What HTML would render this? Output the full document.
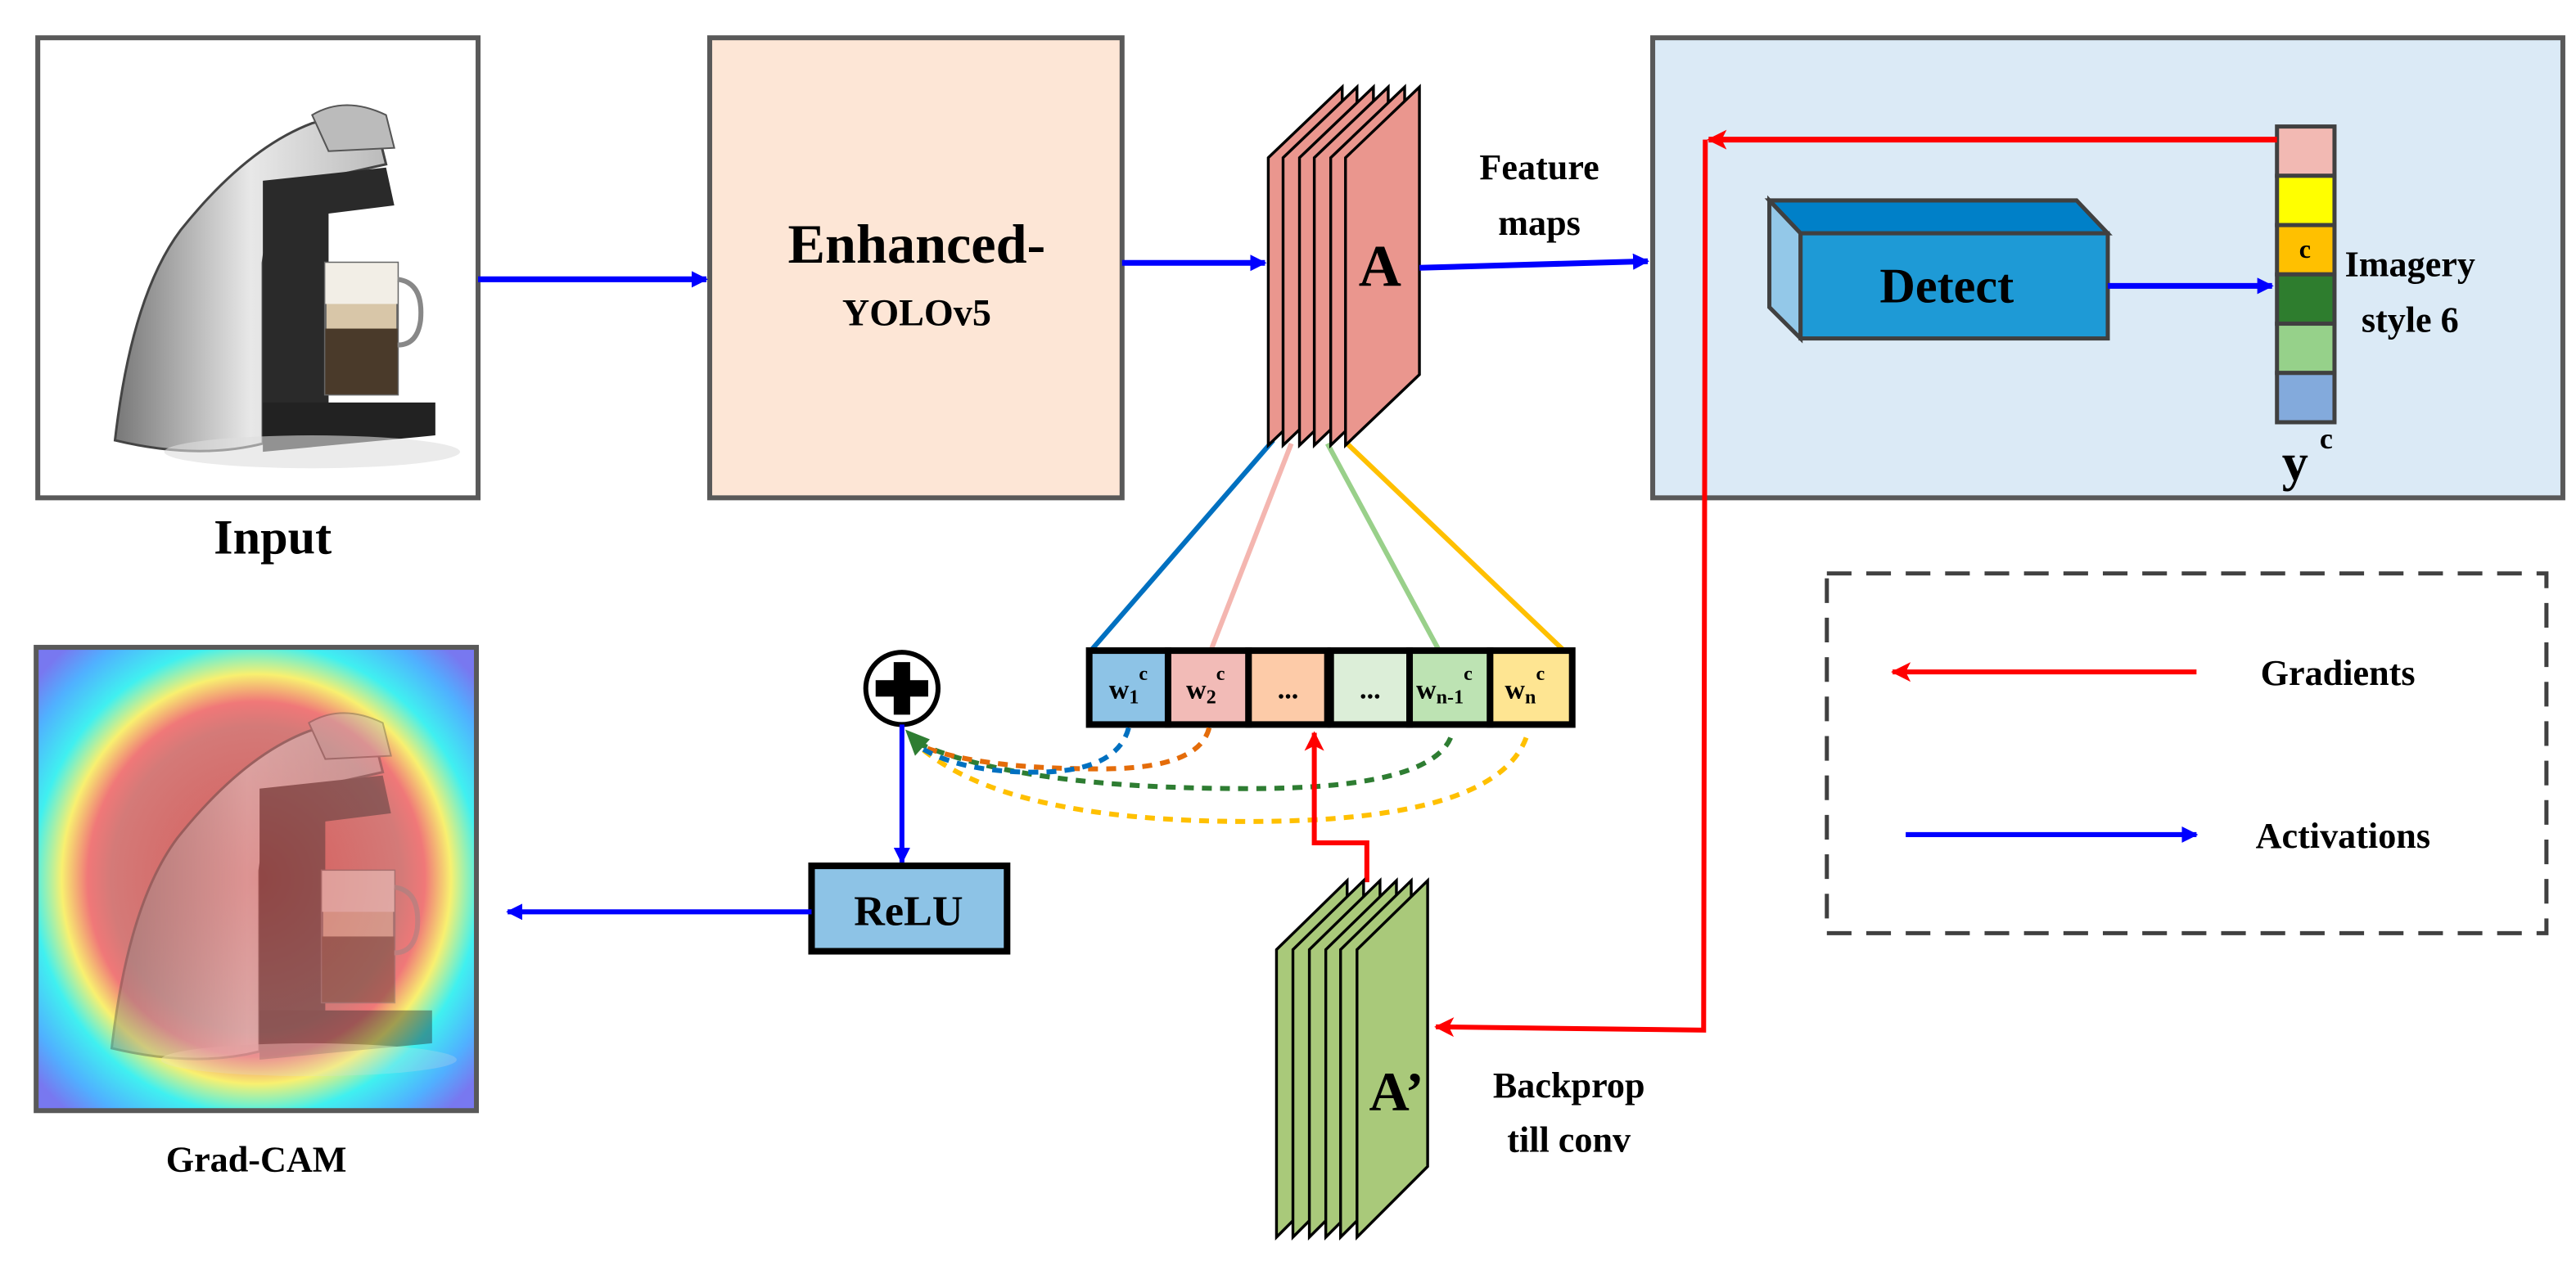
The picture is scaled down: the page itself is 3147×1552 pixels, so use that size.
<!DOCTYPE html>
<html><head><meta charset="utf-8"><style>
html,body{margin:0;padding:0;background:#fff;}
svg{display:block;}
text{font-family:"Liberation Serif",serif;font-weight:bold;fill:#000;}
</style></head><body>
<svg width="3147" height="1552" viewBox="0 0 1568 773" preserveAspectRatio="none" xmlns="http://www.w3.org/2000/svg">
<defs>
<marker id="ab" markerWidth="10" markerHeight="10" refX="9" refY="5" orient="auto" markerUnits="userSpaceOnUse"><path d="M0,0 L10,5 L0,10 Z" fill="#0000ff"/></marker>
<marker id="ar" markerWidth="12" markerHeight="12" refX="11" refY="6" orient="auto" markerUnits="userSpaceOnUse"><path d="M0,0 L12,6 L0,12 L3,6 Z" fill="#ff0000"/></marker>
<radialGradient id="heat" cx="50%" cy="50%" r="66%">
<stop offset="0" stop-color="#d65a58"/>
<stop offset="0.5" stop-color="#d47a78"/>
<stop offset="0.58" stop-color="#f07878"/>
<stop offset="0.67" stop-color="#f8f070"/>
<stop offset="0.77" stop-color="#40f0f0"/>
<stop offset="0.9" stop-color="#50b0ff"/>
<stop offset="1" stop-color="#7878f0"/>
</radialGradient>
<linearGradient id="body" x1="0" x2="1">
<stop offset="0" stop-color="#777"/><stop offset="0.5" stop-color="#e8e8e8"/><stop offset="1" stop-color="#bbb"/>
</linearGradient>
<g id="machine">
<path d="M30,238 Q40,150 70,110 Q110,60 150,45 Q175,38 190,50 L195,70 L150,80 Q125,90 120,130 L120,240 Q80,250 30,238 Z" fill="url(#body)" stroke="#444" stroke-width="1.5"/>
<path d="M120,80 L195,72 L200,95 L160,100 L160,235 L120,240 Z" fill="#2a2a2a"/>
<path d="M150,40 Q170,28 195,40 L200,60 L160,62 Z" fill="#bbb" stroke="#555"/>
<rect x="158" y="130" width="44" height="80" fill="#d8c6a8" stroke="#666" stroke-width="1.5"/>
<rect x="158" y="130" width="44" height="25" fill="#f2eee6"/>
<rect x="158" y="170" width="44" height="40" fill="#4a3a2a"/>
<path d="M202,140 Q218,142 216,165 Q214,180 202,180" fill="none" stroke="#888" stroke-width="3"/>
<path d="M120,215 L225,215 L225,235 L120,245 Z" fill="#222"/>
<ellipse cx="150" cy="245" rx="90" ry="10" fill="#ddd" opacity="0.6"/>
</g>
</defs>

<rect x="23" y="23" width="268" height="280" fill="#fff" stroke="#595959" stroke-width="3"/>
<g transform="translate(40,30)"><use href="#machine"/></g>
<text x="166" y="337" font-size="30" text-anchor="middle">Input</text>

<rect x="22" y="394" width="268" height="282" fill="url(#heat)" stroke="#595959" stroke-width="3"/>
<g transform="translate(38,400)" opacity="0.4"><use href="#machine"/></g>
<text x="156" y="713" font-size="22" text-anchor="middle">Grad-CAM</text>

<rect x="432" y="23" width="251" height="280" fill="#fde6d6" stroke="#595959" stroke-width="3"/>
<text x="558" y="160" font-size="34" text-anchor="middle">Enhanced-</text>
<text x="558" y="198" font-size="23" text-anchor="middle">YOLOv5</text>

<line x1="291" y1="170" x2="430" y2="170" stroke="#0000ff" stroke-width="3.5" marker-end="url(#ab)"/>
<line x1="683" y1="160" x2="770" y2="160" stroke="#0000ff" stroke-width="3.5" marker-end="url(#ab)"/>

<line x1="775" y1="268" x2="664" y2="396" stroke="#0070c0" stroke-width="3"/>
<line x1="786" y1="270" x2="737" y2="396" stroke="#f4b6b0" stroke-width="3"/>
<line x1="808" y1="270" x2="876" y2="396" stroke="#99d08a" stroke-width="3"/>
<line x1="820" y1="270" x2="952" y2="396" stroke="#ffc000" stroke-width="3"/>

<g fill="#ea968e" stroke="#000" stroke-width="1.7">
<polygon points="772,96 817,53 817,228 772,271"/>
<polygon points="781,96 826,53 826,228 781,271"/>
<polygon points="791,96 836,53 836,228 791,271"/>
<polygon points="800,96 845,53 845,228 800,271"/>
<polygon points="810,96 855,53 855,228 810,271"/>
<polygon points="819,96 864,53 864,228 819,271"/>
</g>
<text x="840" y="174" font-size="36" text-anchor="middle">A</text>

<text x="937" y="109" font-size="22" text-anchor="middle">Feature</text>
<text x="937" y="143" font-size="22" text-anchor="middle">maps</text>
<line x1="864" y1="163" x2="1003" y2="159" stroke="#0000ff" stroke-width="3.5" marker-end="url(#ab)"/>

<rect x="1006" y="23" width="554" height="280" fill="#dbeaf6" stroke="#595959" stroke-width="3"/>
<polygon points="1077,122 1264,122 1283,142 1096,142" fill="#0080c8" stroke="#404040" stroke-width="2.5"/>
<polygon points="1077,122 1096,142 1096,206 1077,187" fill="#93c8e8" stroke="#404040" stroke-width="2.5"/>
<rect x="1096" y="142" width="187" height="64" fill="#1e9ad6" stroke="#404040" stroke-width="2.5"/>
<text x="1185" y="184" font-size="30" text-anchor="middle">Detect</text>
<line x1="1283" y1="174" x2="1383" y2="174" stroke="#0000ff" stroke-width="3.5" marker-end="url(#ab)"/>

<g stroke="#404040" stroke-width="2.5">
<rect x="1386" y="77" width="35" height="30" fill="#f2b9b3"/>
<rect x="1386" y="107" width="35" height="30" fill="#ffff00"/>
<rect x="1386" y="137" width="35" height="30" fill="#ffc000"/>
<rect x="1386" y="167" width="35" height="30" fill="#2e7d2e"/>
<rect x="1386" y="197" width="35" height="30" fill="#96d18a"/>
<rect x="1386" y="227" width="35" height="30" fill="#83aadc"/>
</g>
<text x="1403" y="157" font-size="16" text-anchor="middle">c</text>
<text x="1467" y="168" font-size="22" text-anchor="middle">Imagery</text>
<text x="1467" y="202" font-size="22" text-anchor="middle">style 6</text>
<text x="1397" y="292" font-size="32" text-anchor="middle">y</text>
<text x="1412" y="273" font-size="18">c</text>

<line x1="1386" y1="85" x2="1040" y2="85" stroke="#ff0000" stroke-width="3.5" marker-end="url(#ar)"/>
<polyline points="1038,85 1037,627 874,625" fill="none" stroke="#ff0000" stroke-width="3" marker-end="url(#ar)"/>

<rect x="1112" y="349" width="438" height="219" fill="none" stroke="#404040" stroke-width="2.5" stroke-dasharray="15,9"/>
<line x1="1337" y1="409" x2="1152" y2="409" stroke="#ff0000" stroke-width="3" marker-end="url(#ar)"/>
<text x="1376" y="417" font-size="22">Gradients</text>
<line x1="1160" y1="508" x2="1337" y2="508" stroke="#0000ff" stroke-width="3" marker-end="url(#ab)"/>
<text x="1373" y="516" font-size="22">Activations</text>

<g stroke="#000" stroke-width="4">
<rect x="663" y="396" width="48" height="45" fill="#8dc3e6"/>
<rect x="711" y="396" width="49" height="45" fill="#f2bbb7"/>
<rect x="760" y="396" width="48" height="45" fill="#fdcba8"/>
<rect x="810" y="396" width="48" height="45" fill="#dceed8"/>
<rect x="858" y="396" width="49" height="45" fill="#bde3b3"/>
<rect x="907" y="396" width="50" height="45" fill="#fee592"/>
</g>
<g font-size="17">
<text x="675" y="425">w<tspan font-size="12" dy="3">1</tspan><tspan font-size="12" dy="-14">c</tspan></text>
<text x="722" y="425">w<tspan font-size="12" dy="3">2</tspan><tspan font-size="12" dy="-14">c</tspan></text>
<text x="784" y="425" text-anchor="middle">...</text>
<text x="834" y="425" text-anchor="middle">...</text>
<text x="862" y="425">w<tspan font-size="12" dy="3">n-1</tspan><tspan font-size="12" dy="-14">c</tspan></text>
<text x="916" y="425">w<tspan font-size="12" dy="3">n</tspan><tspan font-size="12" dy="-14">c</tspan></text>
</g>

<g fill="none" stroke-width="3" stroke-dasharray="6,5">
<path d="M929,449 Q910,500 760,500 Q610,500 558,453" stroke="#ffc000"/>
<path d="M883,449 Q870,480 760,480 Q620,480 558,452" stroke="#2e7d32"/>
<path d="M736,443 Q730,468 670,468 Q590,468 556,452" stroke="#e46c0a"/>
<path d="M687,443 Q680,470 630,470 Q580,470 556,452" stroke="#0070c0"/>
</g>
<polygon points="551,444 566,450 557,460" fill="#2e7d32"/>

<circle cx="549" cy="419" r="22" fill="#fff" stroke="#000" stroke-width="3"/>
<rect x="533" y="414" width="32" height="10" fill="#000"/>
<rect x="544" y="403" width="10" height="32" fill="#000"/>

<line x1="549" y1="441" x2="549" y2="525" stroke="#0000ff" stroke-width="3" marker-end="url(#ab)"/>
<rect x="494" y="527" width="119" height="52" fill="#8dc3e6" stroke="#000" stroke-width="4"/>
<text x="553" y="563" font-size="26" text-anchor="middle">ReLU</text>
<line x1="494" y1="555" x2="309" y2="555" stroke="#0000ff" stroke-width="3" marker-end="url(#ab)"/>

<polyline points="832,537 832,513 800,513 800,446" fill="none" stroke="#ff0000" stroke-width="3" marker-end="url(#ar)"/>

<g fill="#a9c97a" stroke="#000" stroke-width="1.7">
<polygon points="777,578 820,536 820,710 777,753"/>
<polygon points="787,578 830,536 830,710 787,753"/>
<polygon points="797,578 840,536 840,710 797,753"/>
<polygon points="807,578 850,536 850,710 807,753"/>
<polygon points="816,578 859,536 859,710 816,753"/>
<polygon points="826,578 869,536 869,710 826,753"/>
</g>
<text x="850" y="676" font-size="34" text-anchor="middle">A’</text>
<text x="955" y="668" font-size="22" text-anchor="middle">Backprop</text>
<text x="955" y="701" font-size="22" text-anchor="middle">till conv</text>
</svg>
</body></html>
